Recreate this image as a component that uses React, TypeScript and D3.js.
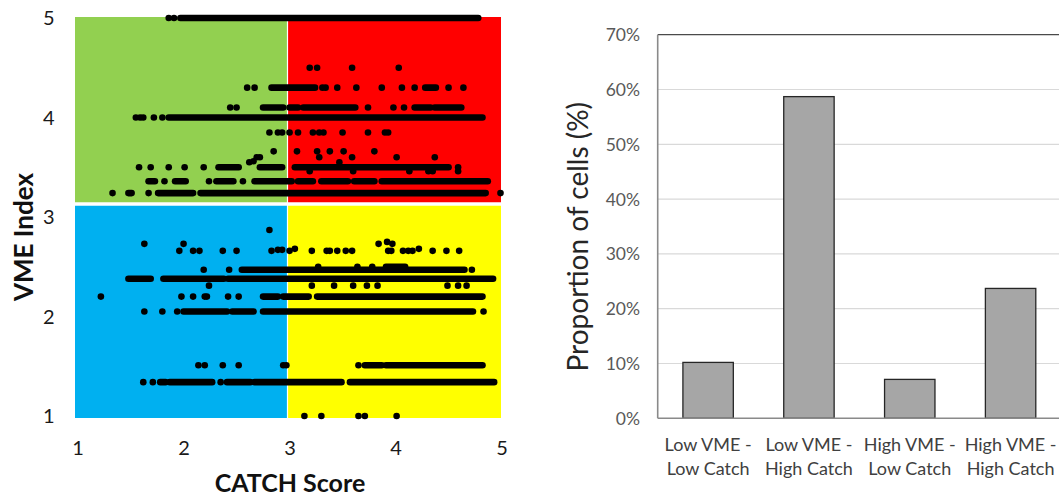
import React from "react";
import * as d3 from "d3";

// ---------- Left panel data (CATCH score vs VME index) ----------
const catchTicks = [1, 2, 3, 4, 5];
const vmeTicks = [1, 2, 3, 4, 5];
const CATCH_SPLIT = 3;
const VME_SPLIT = 3.13;

// isolated points: [catch score, vme index]
const isolatedPoints: [number, number][] = [
  [1.87, 5], [1.92, 5],
  [3.2, 4.5], [3.27, 4.5], [3.6, 4.5], [4.04, 4.5],
  [2.61, 4.3], [2.68, 4.3], [3.32, 4.3], [3.35, 4.3], [3.46, 4.3], [3.64, 4.3], [3.88, 4.3], [4.07, 4.3], [4.19, 4.3], [4.51, 4.3], [4.65, 4.3],
  [2.45, 4.1], [2.51, 4.1], [3.75, 4.1], [3.99, 4.1], [4.09, 4.1],
  [1.56, 4], [1.6, 4], [1.63, 4], [1.73, 4], [1.81, 4],
  [2.82, 3.85], [2.9, 3.85], [2.94, 3.85], [3.01, 3.85], [3.09, 3.85], [3.23, 3.85], [3.29, 3.85], [3.33, 3.85], [3.51, 3.85], [3.75, 3.85], [3.91, 3.85], [3.94, 3.85],
  [2.86, 3.66], [3.08, 3.66], [3.27, 3.66], [3.39, 3.66], [3.52, 3.66], [3.81, 3.66],
  [2.7, 3.6], [2.73, 3.6], [3.29, 3.6], [3.6, 3.6], [4.02, 3.6], [4.38, 3.6],
  [2.63, 3.55], [2.67, 3.56], [3.48, 3.55],
  [1.59, 3.5], [1.7, 3.5], [1.87, 3.5], [2.02, 3.5], [2.2, 3.5], [4.6, 3.5],
  [3.2, 3.46], [3.61, 3.46], [4.14, 3.46], [4.32, 3.46], [4.36, 3.46], [4.6, 3.46],
  [1.83, 3.36], [2.25, 3.36], [2.57, 3.36],
  [1.34, 3.24], [1.68, 3.24], [5.0, 3.24],
  [2.82, 2.87],
  [1.64, 2.73], [2.01, 2.73], [3.85, 2.73], [3.93, 2.75], [3.98, 2.73],
  [1.97, 2.66], [2.1, 2.66], [2.16, 2.66], [2.38, 2.66], [2.51, 2.66], [2.84, 2.66], [2.9, 2.67], [2.94, 2.67], [3.01, 2.66], [3.06, 2.68],
  [3.22, 2.66], [3.36, 2.66], [3.39, 2.66], [3.46, 2.66], [3.54, 2.66], [3.6, 2.66], [3.94, 2.66], [3.97, 2.66], [4.08, 2.66], [4.13, 2.66],
  [4.17, 2.66], [4.23, 2.68], [4.36, 2.66], [4.49, 2.66], [4.61, 2.66],
  [2.2, 2.47], [2.44, 2.47], [4.73, 2.47], [3.28, 2.5], [3.65, 2.5], [3.79, 2.5],
  [2.25, 2.31], [3.22, 2.31], [3.43, 2.31], [3.61, 2.31], [3.74, 2.31], [3.84, 2.31], [4.5, 2.31], [4.6, 2.31], [4.68, 2.31],
  [1.23, 2.2], [1.99, 2.2], [2.1, 2.2], [2.21, 2.2], [2.23, 2.2], [2.43, 2.2], [2.53, 2.2],
  [1.64, 2.05], [1.81, 2.05], [1.95, 2.05], [4.84, 2.05],
  [2.15, 1.51], [2.21, 1.51], [2.38, 1.51], [2.53, 1.51], [2.95, 1.51], [2.98, 1.51], [3.66, 1.51],
  [1.63, 1.34], [1.72, 1.34], [2.36, 1.34],
  [3.15, 1.0], [3.31, 1.0], [3.66, 1.0], [3.72, 1.0], [4.02, 1.0],
];

// dense rows of overlapping points: [vme index, catch from, catch to]
const denseRuns: [number, number, number][] = [
  [5, 1.98, 4.79],
  [4.3, 2.84, 3.25], [4.3, 4.29, 4.39],
  [4.1, 2.76, 2.95], [4.1, 3.01, 3.09], [4.1, 3.14, 3.63], [4.1, 4.19, 4.34], [4.1, 4.38, 4.63],
  [4, 1.87, 4.83],
  [3.5, 2.34, 2.53], [3.5, 2.73, 2.94], [3.5, 3.06, 4.51],
  [3.36, 1.68, 1.74], [3.36, 1.93, 2.03], [3.36, 2.32, 2.48], [3.36, 2.68, 3.03], [3.36, 3.09, 3.23],
  [3.36, 3.31, 3.56], [3.36, 3.62, 3.81], [3.36, 3.88, 4.88],
  [3.24, 1.49, 1.52], [3.24, 1.77, 2.1], [3.24, 2.17, 4.86],
  [2.5, 3.92, 4.1],
  [2.47, 2.56, 4.66],
  [2.38, 1.49, 1.7], [2.38, 1.82, 2.39], [2.38, 2.43, 4.93],
  [2.2, 2.76, 2.9], [2.2, 2.95, 3.19], [2.2, 3.27, 4.83],
  [2.05, 2.01, 2.42], [2.05, 2.47, 2.67], [2.05, 2.76, 4.74],
  [1.51, 3.72, 3.88], [1.51, 3.92, 4.83],
  [1.34, 1.79, 1.84], [1.34, 1.88, 2.28], [1.34, 2.42, 2.64], [1.34, 2.68, 3.5], [1.34, 3.58, 4.94],
];

// ---------- Right panel data ----------
const categories = ["Low VME - Low Catch", "Low VME - High Catch", "High VME - Low Catch", "High VME - High Catch"];
const categoryLines: [string, string][] = [
  ["Low VME -", "Low Catch"],
  ["Low VME -", "High Catch"],
  ["High VME -", "Low Catch"],
  ["High VME -", "High Catch"],
];
const proportions = [0.102, 0.587, 0.071, 0.237];
const pctTicks = [0, 0.1, 0.2, 0.3, 0.4, 0.5, 0.6, 0.7];

const FONT = "Lato, 'Open Sans', sans-serif";
const DOT_R = 3.3;

export default function App() {
  // left scales
  const x = d3.scaleLinear().domain([1, 5]).range([76.5, 500.5]);
  const y = d3.scaleLinear().domain([1, 5]).range([416, 18]);
  const left = x(1) - 1.5;
  const right = x(5) + 0.5;
  const top = y(5) - 1;
  const bottom = y(1) + 2;
  const ySplit = y(VME_SPLIT);
  const xSplit = x(CATCH_SPLIT) - 1;

  const quads = [
    { x0: left, x1: xSplit, y0: top, y1: ySplit, fill: "#92D050" },
    { x0: xSplit, x1: right, y0: top, y1: ySplit, fill: "#FF0000" },
    { x0: left, x1: xSplit, y0: ySplit, y1: bottom, fill: "#00B0F0" },
    { x0: xSplit, x1: right, y0: ySplit, y1: bottom, fill: "#FFFF00" },
  ];

  // right scales
  const xb = d3.scaleBand<string>().domain(categories).range([657.7, 1061]).paddingInner(0.5).paddingOuter(0.25);
  const yb = d3.scaleLinear().domain([0, 0.7]).range([418.3, 34.7]);
  const pctFmt = d3.format(".0%");

  return (
    <div style={{ position: "fixed", left: 0, top: 0 }}>
      <svg width={1059} height={497} style={{ display: "block", background: "#fff" }} fontFamily={FONT}>
        {/* ---- Left scatter ---- */}
        {quads.map((q, i) => (
          <rect key={i} x={q.x0} y={q.y0} width={q.x1 - q.x0} height={q.y1 - q.y0} fill={q.fill} />
        ))}
        <line x1={left} x2={right} y1={ySplit} y2={ySplit} stroke="#fff" strokeWidth={3.5} />
        <line x1={xSplit} x2={xSplit} y1={top} y2={bottom} stroke="#fff" strokeWidth={1.2} />
        {denseRuns.map(([v, c0, c1], i) => (
          <line key={"r" + i} x1={x(c0)} x2={x(c1)} y1={y(v)} y2={y(v)} stroke="#000" strokeWidth={DOT_R * 2} strokeLinecap="round" />
        ))}
        {isolatedPoints.map(([c, v], i) => (
          <circle key={"p" + i} cx={x(c)} cy={y(v)} r={DOT_R} fill="#000" />
        ))}
        {vmeTicks.map((t) => (
          <text key={"vy" + t} x={54.5} y={y(t) + 7} textAnchor="end" fontSize={20} fill="#1a1a1a">
            {t}
          </text>
        ))}
        {catchTicks.map((t) => (
          <text key={"cx" + t} x={x(t) + 1.5} y={455} textAnchor="middle" fontSize={20} fill="#1a1a1a">
            {t}
          </text>
        ))}
        <text transform={`translate(33,237) rotate(-90)`} textAnchor="middle" fontSize={26} fontWeight="bold" fill="#111">
          VME Index
        </text>
        <text x={290} y={491.5} textAnchor="middle" fontSize={25} fontWeight="bold" fill="#111">
          CATCH Score
        </text>

        {/* ---- Right bar chart ---- */}
        {pctTicks.slice(1, -1).map((t) => (
          <line key={"g" + t} x1={657.7} x2={1059} y1={yb(t)} y2={yb(t)} stroke="#d9d9d9" strokeWidth={1.2} />
        ))}
        <line x1={657.7} x2={1059} y1={yb(0.7)} y2={yb(0.7)} stroke="#4a4a4a" strokeWidth={1.3} />
        {categories.map((c, i) => (
          <rect
            key={c}
            x={xb(c)}
            y={yb(proportions[i])}
            width={xb.bandwidth()}
            height={yb(0) - yb(proportions[i])}
            fill="#A6A6A6"
            stroke="#262626"
            strokeWidth={1.3}
          />
        ))}
        <line x1={657.7} x2={657.7} y1={yb(0.7)} y2={yb(0)} stroke="#8a8a8a" strokeWidth={1.6} />
        <line x1={657.7} x2={1059} y1={yb(0)} y2={yb(0)} stroke="#8a8a8a" strokeWidth={1.6} />
        {pctTicks.map((t) => (
          <text key={"pt" + t} x={640} y={yb(t) + 6.5} textAnchor="end" fontSize={17.5} fill="#595959">
            {pctFmt(t)}
          </text>
        ))}
        {categories.map((c, i) => (
          <text key={"cl" + c} textAnchor="middle" fontSize={18} fill="#404040">
            <tspan x={(xb(c) as number) + xb.bandwidth() / 2} y={450.7}>
              {categoryLines[i][0]}
            </tspan>
            <tspan x={(xb(c) as number) + xb.bandwidth() / 2} y={475}>
              {categoryLines[i][1]}
            </tspan>
          </text>
        ))}
        <text transform={`translate(588,236.7) rotate(-90)`} textAnchor="middle" fontSize={28} fill="#262626">
          Proportion of cells (%)
        </text>
      </svg>
    </div>
  );
}
